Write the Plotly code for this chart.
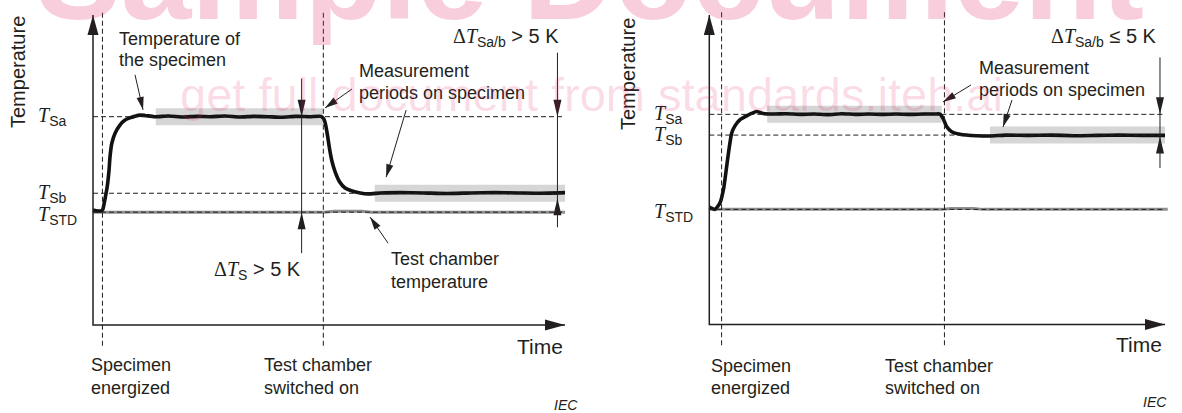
import math
import plotly.graph_objects as go

# ---------------- DATA (schematic units: time 0-100, temperature 0-100) ----------------
# Left diagram: Delta T_Sa/b > 5 K
left_time = [0, 1.0, 1.7, 2.1, 2.5, 3.0, 3.4, 3.6, 4.0, 4.7, 5.7, 6.8, 7.8, 10.0, 11.0, 13, 16, 19, 22, 25,
             28, 31, 34, 37, 40, 43, 46, 48.3, 48.9, 49.3, 49.7, 50.1, 50.6, 51.3, 52.2, 53.4, 54.9, 56.6, 58.3, 61,
             65, 70, 75, 80, 85, 90, 95, 100]
left_specimen = [37.1, 36.8, 36.8, 37.4, 40.3, 44.5, 50.0, 54.2, 58.7, 61.9, 64.5, 66.1, 66.8, 67.7, 67.6, 67.2, 67.4, 67.1, 67.3, 67.2,
                 67.4, 67.1, 67.3, 67.2, 67.0, 67.3, 67.2, 67.3, 66.5, 64.5, 61.0, 57.0, 53.0, 49.4, 46.3, 44.2, 43.2, 42.6, 42.3, 42.6,
                 42.7, 42.6, 42.4, 42.6, 42.7, 42.6, 42.5, 42.7]
left_chamber_time = [0, 49, 51, 57, 59, 100]
left_chamber = [36.4, 36.4, 36.7, 36.7, 36.4, 36.4]
left_T_Sa, left_T_Sb, left_T_STD = 67.2, 42.5, 36.4
left_energized, left_switch_on = 2.0, 48.8
left_periods_start = [13.3, 59.7]
left_periods_end = [48.7, 100.0]
left_delta_s_time = 44.2
left_delta_ab_time = 98.4

# Right diagram: Delta T_Sa/b <= 5 K
right_time = [0, 1.25, 2.35, 3.2, 3.8, 4.4, 4.9, 5.6, 6.7, 8.2, 10.4, 11.8, 14, 17, 20, 23, 26, 29, 32, 35,
              38, 41, 44, 47, 49.5, 50.6, 51.3, 52.1, 53.2, 55.0, 58.7, 61.6, 65, 70, 75, 80, 85, 90, 95, 100]
right_specimen = [37.9, 37.2, 39.3, 44.4, 51.0, 57.4, 61.8, 64.1, 66.1, 67.4, 68.8, 68.2, 68.0, 68.1, 67.9, 68.0, 67.8, 68.1, 67.9, 68.0,
                  67.9, 68.0, 67.9, 68.0, 68.0, 68.0, 66.6, 63.9, 62.3, 61.5, 61.0, 60.9, 61.2, 61.1, 61.2, 61.0, 61.1, 61.2, 61.1, 61.1]
right_chamber_time = [0, 51, 53, 58, 60, 100.6]
right_chamber = [37.2, 37.2, 37.5, 37.5, 37.2, 37.2]
right_T_Sa, right_T_Sb, right_T_STD = 67.9, 61.2, 37.2
right_energized, right_switch_on = 2.7, 51.6
right_periods_start = [12.7, 61.6]
right_periods_end = [51.0, 100.0]
right_delta_ab_time = 98.9

axis_end = 100.0
event_line_span = (-6.7, 101.0)

# ---------------- STYLE / LAYOUT ----------------
W, H = 1182, 413
INK = "#231f20"
SANS = "Liberation Sans, Arial, sans-serif"
SERIF = "Liberation Serif"
BAND = "#d6d6d6"
GRAYLINE = "#8f8f8f"
DASH = "5px,3px"

# pixel anchors of each panel (origin px, px per unit)
LP = dict(x0=93.0, xs=4.72, y0=325.0, ys=3.1, dom=(0.0, 0.5))
RP = dict(x0=709.3, xs=4.557, y0=324.5, ys=3.095, dom=(0.5, 1.0))


def ranges(p):
    a, b = p["dom"][0] * W, p["dom"][1] * W
    xr = [(a - p["x0"]) / p["xs"], (b - p["x0"]) / p["xs"]]
    yr = [(p["y0"] - H) / p["ys"], p["y0"] / p["ys"]]
    return xr, yr


fig = go.Figure()
shapes = []
annotations = []


def head(xref, yref, x, y, angle, L=14, w=3.5, off=0.0):
    c, s = math.cos(angle), math.sin(angle)
    tx, ty = off * c, off * s
    bx, by = tx - L * c, ty - L * s
    p1 = (bx - w * s, by + w * c)
    p2 = (bx + w * s, by - w * c)
    path = f"M{tx:.2f},{ty:.2f} L{p1[0]:.2f},{p1[1]:.2f} L{p2[0]:.2f},{p2[1]:.2f} Z"
    return dict(type="path", xref=xref, yref=yref, xsizemode="pixel", ysizemode="pixel",
                xanchor=x, yanchor=y, path=path, fillcolor=INK, line=dict(width=0), layer="above")


def callout(xref, yref, x, y, dx, dy):
    shapes.append(dict(type="line", xref=xref, yref=yref, xsizemode="pixel", ysizemode="pixel",
                       xanchor=x, yanchor=y, x0=0, y0=0, x1=dx, y1=dy,
                       line=dict(color=INK, width=1), layer="above"))
    shapes.append(head(xref, yref, x, y, math.atan2(-dy, -dx), L=13, w=3.6))


def T_label(sub):
    return f"<span style='font-family:{SERIF}'><i>T</i></span><sub>{sub}</sub>"


def txt(px, py, s, size=18, xanchor="left", **kw):
    annotations.append(dict(xref="paper", yref="paper", x=px / W, y=1 - py / H, text=s, showarrow=False,
                            xanchor=xanchor, yanchor="middle", font=dict(size=size, color=INK, family=SANS), **kw))


def panel(xa, ya, p, time, spec, ch_t, ch, Tsa, Tsb, Tstd, t_en, t_sw, ps, pe):
    xref, yref = xa, ya
    # measurement bands
    for a, b, lvl in zip(ps, pe, [Tsa, Tsb]):
        shapes.append(dict(type="rect", xref=xref, yref=yref, ysizemode="pixel", yanchor=lvl,
                           x0=a, x1=b, y0=-8.5, y1=8.5, fillcolor=BAND, line=dict(width=0), layer="below"))
    # chamber temperature (gray)
    fig.add_trace(go.Scatter(x=ch_t, y=ch, mode="lines", xaxis=xa, yaxis=ya,
                             line=dict(color=GRAYLINE, width=3), hoverinfo="skip"))
    # specimen temperature
    fig.add_trace(go.Scatter(x=time, y=spec, mode="lines", xaxis=xa, yaxis=ya,
                             line=dict(color="#111111", width=3.6, shape="spline", smoothing=0.5),
                             hoverinfo="skip"))
    # axes
    fig.add_trace(go.Scatter(x=[0, 0, axis_end], y=[axis_end, 0, 0], mode="lines", xaxis=xa, yaxis=ya,
                             line=dict(color=INK, width=1.5), hoverinfo="skip"))
    shapes.append(head(xref, yref, 0, axis_end, math.pi / 2, L=20, w=5.5))
    shapes.append(head(xref, yref, axis_end, 0, 0.0, L=20, w=5.5))
    # level dashed lines
    for lvl in (Tsa, Tsb, Tstd):
        shapes.append(dict(type="line", xref=xref, yref=yref, x0=0, x1=axis_end, y0=lvl, y1=lvl,
                           line=dict(color=INK, width=1, dash=DASH), layer="above"))
    # event dashed lines
    for t in (t_en, t_sw):
        shapes.append(dict(type="line", xref=xref, yref=yref, x0=t, x1=t,
                           y0=event_line_span[0], y1=event_line_span[1],
                           line=dict(color=INK, width=1, dash=DASH), layer="above"))
    # level labels
    lab_x = (p["x0"] - 57) / W
    for lvl, sub, dy in ((Tsa, "Sa", 0), (Tsb, "Sb", 0), (Tstd, "STD", -3)):
        annotations.append(dict(xref="paper", yref=yref, x=lab_x, y=lvl, yshift=dy, text=T_label(sub),
                                showarrow=False, xanchor="left", yanchor="middle",
                                font=dict(size=20, color=INK, family=SANS)))


def delta_line(xa, ya, t, top, bottom, Tup, Tdown, off_down=0.0):
    fig.add_trace(go.Scatter(x=[t, t], y=[top, bottom], mode="lines", xaxis=xa, yaxis=ya,
                             line=dict(color=INK, width=1), hoverinfo="skip"))
    shapes.append(head(xa, ya, t, Tup, -math.pi / 2, L=17, w=4))
    shapes.append(head(xa, ya, t, Tdown, math.pi / 2, L=17, w=4, off=off_down))


panel("x", "y", LP, left_time, left_specimen, left_chamber_time, left_chamber,
      left_T_Sa, left_T_Sb, left_T_STD, left_energized, left_switch_on, left_periods_start, left_periods_end)
panel("x2", "y2", RP, right_time, right_specimen, right_chamber_time, right_chamber,
      right_T_Sa, right_T_Sb, right_T_STD, right_energized, right_switch_on, right_periods_start, right_periods_end)

# delta arrows
delta_line("x", "y", left_delta_s_time, left_T_Sa + 38 / LP["ys"], left_T_STD - 41 / LP["ys"], left_T_Sa, left_T_STD)
delta_line("x", "y", left_delta_ab_time, left_T_Sa + 64 / LP["ys"], left_T_Sb - 34 / LP["ys"], left_T_Sa, left_T_Sb,
           off_down=-5)
delta_line("x2", "y2", right_delta_ab_time, right_T_Sa + 57 / RP["ys"], right_T_Sb - 33 / RP["ys"], right_T_Sa,
           right_T_Sb, off_down=-1.5)

# callout arrows (tip in data units, tail offset in px)
callout("x", "y", 10.6, 69.4, -8, 35)
callout("x", "y", 49.15, 70.0, 27, 19)
callout("x", "y", 62.1, 47.7, 20, 67)
callout("x", "y", 58.7, 34.8, 18, -26)
callout("x2", "y2", 51.28, 71.9, 28, 17)
callout("x2", "y2", 64.45, 63.8, 9, 27)

# ---------------- TEXT ----------------
DELTA = f"<span style='font-family:{SERIF}'>Δ<i>T</i></span>"
# left panel
txt(18, 72, "Temperature", size=20, xanchor="center", textangle=-90)
txt(117, 39, "Temperature of")
txt(117, 60, "the specimen")
txt(357, 71, "Measurement")
txt(357, 93, "periods on specimen")
txt(561, 37, DELTA + "<sub>Sa/b</sub> &gt; 5 K", size=20, xanchor="right")
txt(303, 270, DELTA + "<sub>S</sub> &gt; 5 K", size=20, xanchor="right")
txt(389, 259, "Test chamber")
txt(389, 282, "temperature")
txt(89, 365, "Specimen")
txt(89, 388, "energized")
txt(262, 365, "Test chamber")
txt(262, 388, "switched on")
txt(565, 346, "Time", size=21, xanchor="right")
txt(580, 405, "<i>IEC</i>", size=14, xanchor="right")
# right panel
txt(628, 74, "Temperature", size=20, xanchor="center", textangle=-90)
txt(977, 68, "Measurement")
txt(977, 90, "periods on specimen")
txt(1159, 38, DELTA + "<sub>Sa/b</sub> ≤ 5 K", size=20, xanchor="right")
txt(709, 366, "Specimen")
txt(709, 388, "energized")
txt(883, 366, "Test chamber")
txt(883, 388, "switched on")
txt(1164, 344, "Time", size=21, xanchor="right")
txt(1169, 402, "<i>IEC</i>", size=14, xanchor="right")

# watermark
annotations.append(dict(xref="paper", yref="paper", x=590 / W, y=1 + 25 / H, text="<b>Sample Document</b>",
                        showarrow=False, xanchor="center", yanchor="middle",
                        font=dict(size=127, color="rgba(225,30,100,0.22)", family=SANS)))
annotations.append(dict(xref="paper", yref="paper", x=591 / W, y=1 - 95 / H,
                        text="get full document from standards.iteh.ai",
                        showarrow=False, xanchor="center", yanchor="middle",
                        font=dict(size=47, color="rgba(225,30,100,0.16)", family=SANS)))

lxr, lyr = ranges(LP)
rxr, ryr = ranges(RP)
ax_common = dict(visible=False, showgrid=False, zeroline=False, fixedrange=True)
fig.update_layout(
    width=W, height=H, margin=dict(l=0, r=0, t=0, b=0),
    paper_bgcolor="white", plot_bgcolor="rgba(0,0,0,0)", showlegend=False,
    xaxis=dict(domain=list(LP["dom"]), range=lxr, anchor="y", **ax_common),
    yaxis=dict(domain=[0, 1], range=lyr, anchor="x", **ax_common),
    xaxis2=dict(domain=list(RP["dom"]), range=rxr, anchor="y2", **ax_common),
    yaxis2=dict(domain=[0, 1], range=ryr, anchor="x2", **ax_common),
    shapes=shapes, annotations=annotations,
    font=dict(family=SANS, color=INK),
)

fig.write_html("out.html", config=dict(displayModeBar=False),
               post_script="document.body.style.margin='0';document.body.style.padding='0';"
                           "document.body.style.overflow='hidden';")
